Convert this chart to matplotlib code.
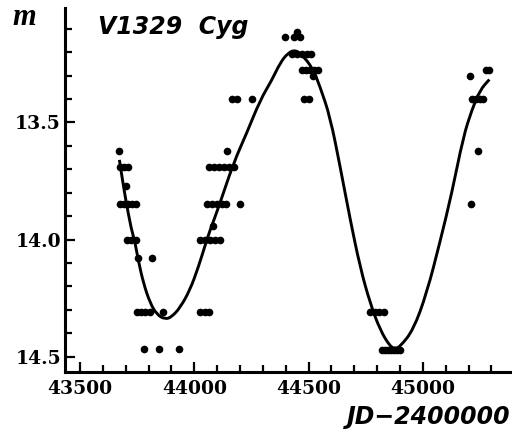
import matplotlib
matplotlib.use("Agg")
import matplotlib.pyplot as plt
from matplotlib.ticker import MultipleLocator
from matplotlib.path import Path
from matplotlib.patches import PathPatch

# observed magnitudes (JD - 2400000)
obs_jd = [43672,
          43675, 43693, 43710,
          43700,
          43675, 43693, 43710, 43728, 43745,
          43706, 43723, 43745,
          43752, 43814,
          43749, 43767, 43784, 43806, 43865,
          43781, 43847, 43933,
          44025, 44045, 44065,
          44025, 44047, 44069, 44091, 44113,
          44083,
          44056, 44078, 44100, 44121, 44139, 44200,
          44065, 44086, 44108, 44130, 44152, 44174,
          44142,
          44165, 44187, 44253,
          44397, 44436, 44463, 44449,
          44428, 44450, 44471, 44493, 44511,
          44471, 44489, 44506, 44524, 44541,
          44521,
          44478, 44500,
          44770, 44790, 44810, 44828,
          44822, 44835, 44848, 44861, 44874, 44887, 44900,
          45207,
          45277, 45291,
          45215, 45233, 45250, 45264,
          45243,
          45211]
obs_mag = [13.62,
           13.69, 13.69, 13.69,
           13.77,
           13.85, 13.85, 13.85, 13.85, 13.85,
           14.00, 14.00, 14.00,
           14.08, 14.08,
           14.31, 14.31, 14.31, 14.31, 14.31,
           14.465, 14.465, 14.465,
           14.31, 14.31, 14.31,
           14.00, 14.00, 14.00, 14.00, 14.00,
           13.94,
           13.85, 13.85, 13.85, 13.85, 13.85, 13.85,
           13.69, 13.69, 13.69, 13.69, 13.69, 13.69,
           13.62,
           13.40, 13.40, 13.40,
           13.135, 13.137, 13.137, 13.113,
           13.21, 13.21, 13.21, 13.21, 13.21,
           13.275, 13.275, 13.275, 13.275, 13.275,
           13.30,
           13.40, 13.40,
           14.31, 14.31, 14.31, 14.31,
           14.47, 14.47, 14.47, 14.47, 14.47, 14.47, 14.47,
           13.30,
           13.277, 13.277,
           13.40, 13.40, 13.40, 13.40,
           13.62,
           13.85]

# fitted light curve
curve_jd = [43672, 43697, 43725, 43738, 43755, 43777, 43806, 43836, 43872,
            43901, 43938, 43981, 44018, 44047, 44069, 44105, 44171, 44229,
            44288, 44339, 44375, 44410, 44445, 44485, 44521, 44550, 44594,
            44638, 44681, 44725, 44769, 44813, 44857, 44880, 44900, 44958,
            45017, 45075, 45127, 45177, 45214, 45250, 45291]
curve_mag = [13.66, 13.817, 13.96, 14.00, 14.09, 14.185, 14.27, 14.32, 14.34,
             14.33, 14.29, 14.215, 14.116, 14.025, 13.959, 13.866, 13.674, 13.546,
             13.405, 13.32, 13.247, 13.203, 13.19, 13.226, 13.277, 13.348, 13.476,
             13.689, 13.91, 14.116, 14.271, 14.386, 14.457, 14.465, 14.457, 14.386,
             14.228, 14.01, 13.80, 13.561, 13.448, 13.362, 13.317]

fig = plt.figure(figsize=(5.12, 4.32), dpi=100)
ax = fig.add_axes([65/512, 1 - 372/432, (512 - 65)/512, (372 - 8)/432])

# smooth path: read points used as quadratic control points
pts = list(zip(curve_jd, curve_mag))
verts = [pts[0], ((pts[0][0] + pts[1][0]) / 2, (pts[0][1] + pts[1][1]) / 2)]
codes = [Path.MOVETO, Path.LINETO]
for i in range(1, len(pts) - 1):
    nxt = pts[i + 1]
    verts += [pts[i], ((pts[i][0] + nxt[0]) / 2, (pts[i][1] + nxt[1]) / 2)]
    codes += [Path.CURVE3, Path.CURVE3]
verts.append(pts[-1])
codes.append(Path.LINETO)
ax.add_patch(PathPatch(Path(verts, codes), fill=False, edgecolor="black",
                       lw=2.1, zorder=2))

ax.plot(obs_jd, obs_mag, "o", color="black", ms=5.5, mec="none", zorder=3)

ax.set_xlim(43434, 45390)
ax.set_ylim(14.565, 13.012)

ax.spines["top"].set_visible(False)
ax.spines["right"].set_visible(False)
ax.spines["left"].set_linewidth(2.2)
ax.spines["bottom"].set_linewidth(2.2)

ax.xaxis.set_major_locator(MultipleLocator(500))
ax.xaxis.set_minor_locator(MultipleLocator(100))
ax.yaxis.set_major_locator(MultipleLocator(0.5))
ax.yaxis.set_minor_locator(MultipleLocator(0.1))
ax.yaxis.set_major_formatter(plt.FuncFormatter(lambda v, p: "%.1f" % v))

ax.tick_params(which="both", direction="in", width=1.6, colors="black")
ax.tick_params(which="major", length=7)
ax.tick_params(which="minor", length=5)
ax.tick_params(axis="x", pad=6)
ax.tick_params(axis="y", pad=3)
for lab in ax.get_xticklabels() + ax.get_yticklabels():
    lab.set_fontfamily("DejaVu Serif")
    lab.set_fontweight("bold")
    lab.set_fontsize(13.5)

fig.text(12/512, 1 - 25/432, "m", fontsize=22, fontfamily="Liberation Serif",
         style="italic", fontweight="bold")
fig.text(98/512, 1 - 34/432, "V1329  Cyg", fontsize=17, fontfamily="DejaVu Sans",
         style="italic", fontweight="bold")
fig.text(511/512, 1 - 424/432, "JD\u22122400000", fontsize=17, fontfamily="DejaVu Sans",
         style="italic", fontweight="bold", ha="right")

plt.savefig("out.png", dpi=100)
